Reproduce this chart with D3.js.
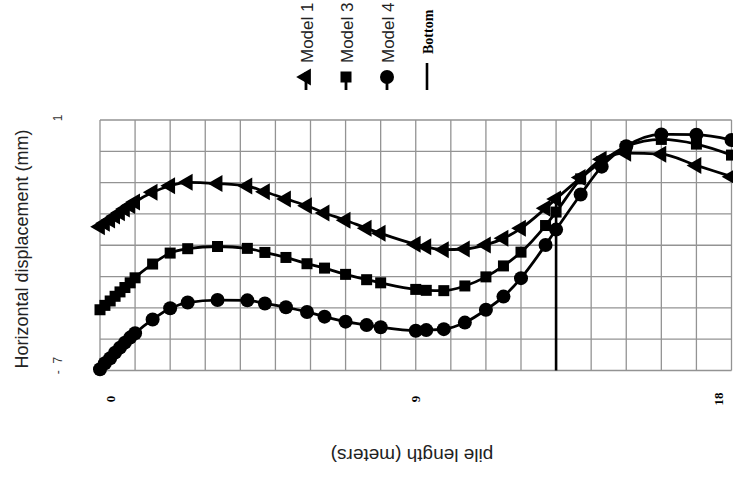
<!DOCTYPE html>
<html>
<head>
<meta charset="utf-8">
<script src="https://cdnjs.cloudflare.com/ajax/libs/d3/7.8.5/d3.min.js"></script>
<style>
  body { margin: 0; background: #fff; }
  svg { display: block; }
</style>
</head>
<body>
<div id="visual"></div>
<script>
// pile length (m) at each measuring point, shared by all models
var depth = [0, 0.14, 0.29, 0.43, 0.57, 0.71, 0.86, 1, 1.5, 2, 2.5, 3.35, 4.2, 4.7, 5.3,
             5.9, 6.4, 7, 7.6, 8, 9, 9.3, 9.8, 10.4, 11, 11.5, 12, 12.7, 13, 13.7, 14.3,
             15, 16, 17, 18];

// horizontal displacement (mm)
var model1 = [-2.41, -2.30, -2.19, -2.07, -1.96, -1.84, -1.73, -1.62, -1.31, -1.10, -0.99,
              -1.03, -1.11, -1.29, -1.52, -1.74, -1.97, -2.20, -2.46, -2.62, -2.97, -3.05,
              -3.14, -3.12, -2.99, -2.78, -2.46, -1.82, -1.52, -0.84, -0.25, -0.06, -0.09,
              -0.45, -0.81];
var model3 = [-5.06, -4.92, -4.78, -4.63, -4.49, -4.35, -4.20, -4.04, -3.60, -3.25, -3.11,
              -3.04, -3.10, -3.23, -3.39, -3.59, -3.73, -3.93, -4.10, -4.20, -4.41, -4.44,
              -4.45, -4.30, -4.01, -3.66, -3.22, -2.37, -1.94, -0.88, -0.33, 0.15, 0.38,
              0.23, -0.12];
var model4 = [-6.96, -6.77, -6.61, -6.43, -6.27, -6.11, -5.95, -5.81, -5.37, -5.01, -4.83,
              -4.75, -4.76, -4.86, -4.98, -5.13, -5.28, -5.44, -5.55, -5.62, -5.73, -5.71,
              -5.68, -5.47, -5.06, -4.64, -4.05, -2.99, -2.50, -1.38, -0.49, 0.16, 0.54,
              0.53, 0.36];

var seriesNames = ["Model 1", "Model 3", "Model 4"];
var seriesSymbols = ["triangle", "square", "circle"];

// pile bottom marker
var bottomDepth = 13;
var bottomRange = [-7, -1.5];

var xTicks = [0, 9, 18];
var xTickLabels = ["0", "9", "18"];
var yTicks = [1, -7];
var yTickLabels = ["1", "-  7"];

var width = 733, height = 481;

var svg = d3.select("#visual").append("svg")
    .attr("width", width)
    .attr("height", height);

var x = d3.scaleLinear().domain([0, 18]).range([100, 731.5]);
var y = d3.scaleLinear().domain([-7, 1]).range([370.5, 120]);

// grid, one line per metre and per millimetre
svg.append("g")
    .selectAll("line")
    .data(d3.range(0, 19))
  .enter().append("line")
    .attr("x1", function (d) { return x(d); })
    .attr("x2", function (d) { return x(d); })
    .attr("y1", y(-7))
    .attr("y2", y(1))
    .attr("stroke", "#939393")
    .attr("stroke-width", 1.3);

svg.append("g")
    .selectAll("line")
    .data(d3.range(-7, 2))
  .enter().append("line")
    .attr("x1", x(0))
    .attr("x2", x(18))
    .attr("y1", function (d) { return y(d); })
    .attr("y2", function (d) { return y(d); })
    .attr("stroke", "#939393")
    .attr("stroke-width", 1.3);

// tick labels
svg.append("g")
    .selectAll("text")
    .data(xTicks)
  .enter().append("text")
    .attr("transform", function (d, i) {
        var px = x(d) + (i === 0 ? 10 : (i === xTicks.length - 1 ? -13 : 0));
        return "translate(" + px + ",399) rotate(-90)";
    })
    .attr("text-anchor", "middle")
    .attr("dominant-baseline", "central")
    .attr("font-family", "Liberation Serif, serif")
    .attr("font-weight", "bold")
    .attr("font-size", 13)
    .text(function (d, i) { return xTickLabels[i]; });

svg.append("g")
    .selectAll("text")
    .data(yTicks)
  .enter().append("text")
    .attr("transform", function (d, i) {
        var py = y(d) + (i === 0 ? -2 : -5);
        return "translate(58," + py + ") rotate(-90)";
    })
    .attr("text-anchor", "middle")
    .attr("dominant-baseline", "central")
    .attr("xml:space", "preserve")
    .attr("font-family", "Liberation Sans, Arial, sans-serif")
    .attr("font-size", 12)
    .attr("fill", "#333")
    .text(function (d, i) { return yTickLabels[i]; });

// axis titles
svg.append("text")
    .attr("transform", "translate(22,249) rotate(-90)")
    .attr("text-anchor", "middle")
    .attr("dominant-baseline", "central")
    .attr("font-family", "Liberation Sans, Arial, sans-serif")
    .attr("font-size", 18)
    .attr("fill", "#222")
    .text("Horizontal displacement (mm)");

svg.append("text")
    .attr("transform", "translate(412,455) rotate(180)")
    .attr("text-anchor", "middle")
    .attr("dominant-baseline", "central")
    .attr("font-family", "Liberation Sans, Arial, sans-serif")
    .attr("font-size", 19)
    .attr("fill", "#222")
    .text("pile length (meters)");

// bottom of the pile
svg.append("line")
    .attr("x1", x(bottomDepth))
    .attr("x2", x(bottomDepth))
    .attr("y1", y(bottomRange[0]))
    .attr("y2", y(bottomRange[1]))
    .attr("stroke", "#000")
    .attr("stroke-width", 2.6);

var line = d3.line()
    .curve(d3.curveMonotoneX)
    .x(function (d) { return x(d[0]); })
    .y(function (d) { return y(d[1]); });

function marker(sel, kind) {
    if (kind === "circle") {
        sel.append("circle").attr("r", 7).attr("fill", "#000");
    } else if (kind === "square") {
        sel.append("rect").attr("x", -5.5).attr("y", -5.5)
            .attr("width", 11).attr("height", 11).attr("fill", "#000");
    } else {
        sel.append("path")
            .attr("d", d3.symbol().type(d3.symbolTriangle).size(125)())
            .attr("transform", "rotate(-90)")
            .attr("fill", "#000");
    }
}

[model1, model3, model4].forEach(function (vals, k) {
    var pts = depth.map(function (d, i) { return [d, vals[i]]; });

    svg.append("path")
        .datum(pts)
        .attr("d", line)
        .attr("fill", "none")
        .attr("stroke", "#000")
        .attr("stroke-width", 2.8);

    svg.append("g").selectAll("g")
        .data(pts)
      .enter().append("g")
        .attr("transform", function (d) { return "translate(" + x(d[0]) + "," + y(d[1]) + ")"; })
        .each(function () { marker(d3.select(this), seriesSymbols[k]); });
});

// legend, written sideways like the rest of the figure
var legendX = [306, 346, 387, 427];
var legend = svg.append("g");

seriesNames.forEach(function (name, k) {
    var g = legend.append("g").attr("transform", "translate(" + legendX[k] + ",0)");
    g.append("line")
        .attr("x1", 0).attr("x2", 0)
        .attr("y1", 72).attr("y2", 90)
        .attr("stroke", "#000").attr("stroke-width", 2.8);
    marker(g.append("g").attr("transform", "translate(0,77)"), seriesSymbols[k]);
    g.append("text")
        .attr("transform", "translate(1,63) rotate(-90)")
        .attr("dominant-baseline", "central")
        .attr("font-family", "Liberation Sans, Arial, sans-serif")
        .attr("font-size", 17)
        .attr("fill", "#222")
        .text(name);
});

var gb = legend.append("g").attr("transform", "translate(" + legendX[3] + ",0)");
gb.append("line")
    .attr("x1", 0).attr("x2", 0)
    .attr("y1", 63).attr("y2", 90)
    .attr("stroke", "#000").attr("stroke-width", 2.6);
gb.append("text")
    .attr("transform", "translate(1,54) rotate(-90)")
    .attr("dominant-baseline", "central")
    .attr("font-family", "Liberation Serif, serif")
    .attr("font-weight", "bold")
    .attr("font-size", 14)
    .text("Bottom");
</script>
</body>
</html>
